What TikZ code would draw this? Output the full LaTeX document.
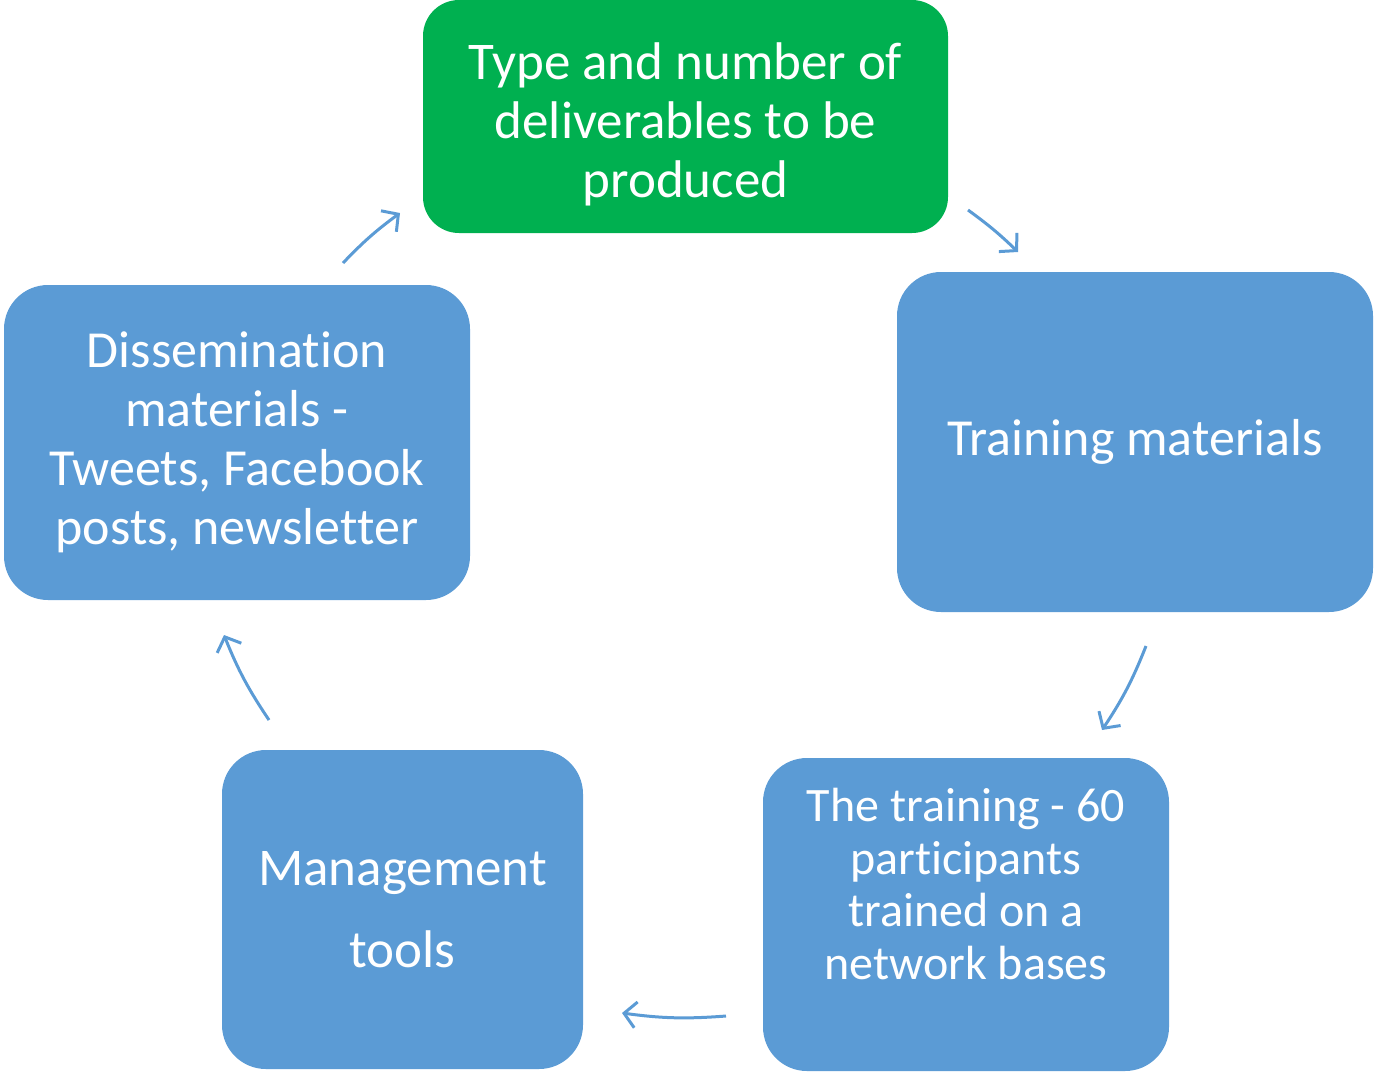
\documentclass[tikz,border=0pt]{standalone}
\usepackage{fontspec}
\setmainfont{Carlito}[Ligatures=NoCommon]
\usepackage{tikz}
\usetikzlibrary{arrows.meta}

\definecolor{stepblue}{HTML}{5B9BD5}
\definecolor{stepgreen}{HTML}{00B050}

\begin{document}
\begin{tikzpicture}[x=0.5pt, y=-0.5pt,
  box/.style={draw=none, fill=stepblue, rounded corners=22pt, inner sep=0pt, text=white, align=center,
    font=\fontsize{26}{29.5}\selectfont},
  txt/.style={text=white, align=center, inner sep=0pt},
  flow/.style={draw=stepblue, line width=1.5pt, -{Straight Barb[length=6pt,width=13pt]}}]
  \useasboundingbox (0,0) rectangle (1376,1072);
  % boxes
  \node[box, fill=stepgreen, rounded corners=18pt, minimum width=262.5pt, minimum height=116.5pt] (deliv) at (685.5,116.5) {};
  \node[txt, font=\fontsize{26.5}{29.5}\selectfont] (delivtxt) at (685.5,124) {Type and number of\\deliverables to be\\produced};
  \node[box, minimum width=238pt, minimum height=170pt] (materials) at (1135,442) {Training materials};
  \node[box, minimum width=203pt, minimum height=156.5pt] (training) at (966,914.5) {};
  \node[txt, font=\fontsize{24}{26.2}\selectfont] (trainingtxt) at (966,884) {The training - 60\\participants\\trained on a\\network bases};
  \node[box, minimum width=180.5pt, minimum height=159.5pt, font=\fontsize{26.5}{41}\selectfont] (tools) at (402.5,909.5) {Management\\tools};
  \node[box, minimum width=233pt, minimum height=157.5pt] (dissem) at (237,442.5) {Dissemina\kern0pt tion\\materials -\\Tweets, Facebook\\posts, newslet\kern0pt ter};
  % arrow ends
  \coordinate (a1) at (343,263);  \coordinate (b1) at (400,213);
  \coordinate (a2) at (968,210);  \coordinate (b2) at (1018,252);
  \coordinate (a3) at (1146,646); \coordinate (b3) at (1102,730);
  \coordinate (a4) at (726,1016); \coordinate (b4) at (622,1013);
  \coordinate (a5) at (269,720);  \coordinate (b5) at (224,635);
  \draw[flow] (a1) to[bend left=5] (b1);
  \draw[flow] (a2) to[bend left=4] (b2);
  \draw[flow] (a3) to[bend left=6] (b3);
  \draw[flow] (a4) to[bend left=6] (b4);
  \draw[flow] (a5) to[bend left=6] (b5);
\end{tikzpicture}
\end{document}
